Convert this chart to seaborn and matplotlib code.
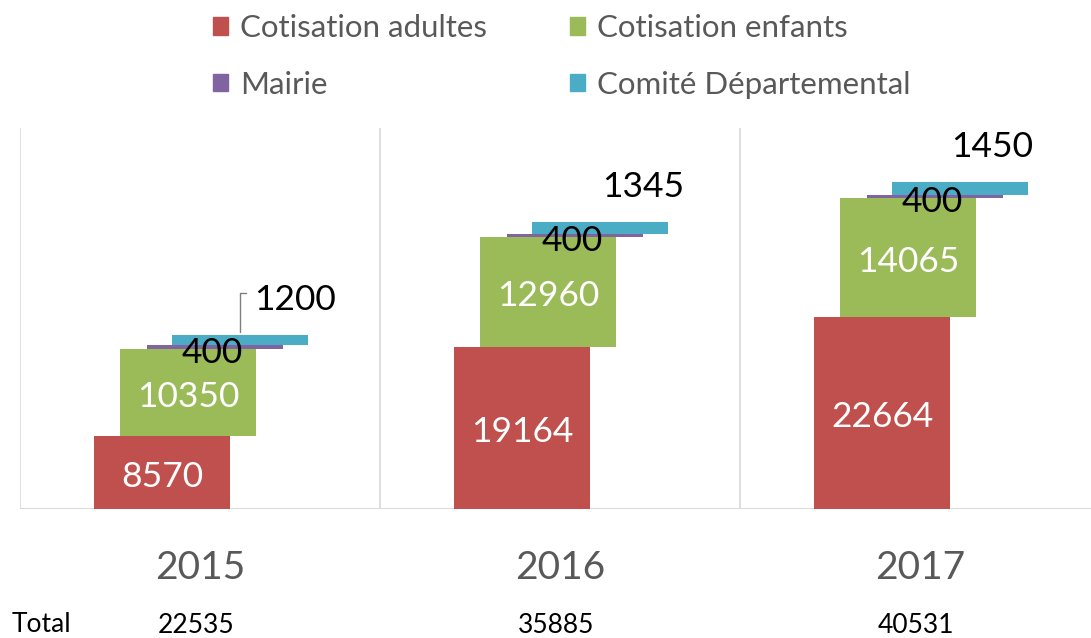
import matplotlib
matplotlib.use("Agg")
import matplotlib.pyplot as plt
from matplotlib.patches import Patch
import seaborn as sns
import numpy as np

years = ["2015", "2016", "2017"]
adultes = [8570, 19164, 22664]
enfants = [10350, 12960, 14065]
mairie = [400, 400, 400]
comite = [1200, 1345, 1450]
totals = ["22535", "35885", "40531"]
series_names = ["Cotisation adultes", "Cotisation enfants", "Mairie", "Comité Départemental"]

colors = ["#C0504D", "#9BBB59", "#8064A2", "#4BACC6"]

sns.set_theme(style="white")
plt.rcParams["font.family"] = ["Lato", "DejaVu Sans"]

fig = plt.figure(figsize=(10.91, 6.38), dpi=100)
ax = fig.add_axes([20 / 1091, 1 - 509 / 638, 1080 / 1091, 381 / 638])

idx = np.arange(len(years))
series = [adultes, enfants, mairie, comite]
offsets = [-0.105, -0.033, 0.042, 0.111]
width = 0.378

bottom = np.zeros(len(years))
bar_containers = []
for vals, off, col in zip(series, offsets, colors):
    vals = np.array(vals, dtype=float)
    sns.barplot(x=idx + off, y=vals, native_scale=True, width=width,
                color=col, saturation=1, bottom=bottom.copy(), ax=ax,
                linewidth=0, errorbar=None)
    bar_containers.append((idx + off, bottom.copy(), vals))
    bottom = bottom + vals

ax.set_xlim(-0.5, 2.5)
ax.set_ylim(0, 45000)
ax.set_xticks([])
ax.set_yticks([])
for s in ["top", "right", "left", "bottom"]:
    ax.spines[s].set_visible(False)

# separators and baseline
for xv in [-0.5, 0.5, 1.5, 2.5]:
    ax.axvline(xv, color="#D9D9D9", lw=1.2, zorder=0)
ax.axhline(0, color="#D9D9D9", lw=1.5, zorder=0)

# labels: adultes & enfants inside (white)
for k in range(2):
    xs, bots, vals = bar_containers[k]
    for x, b, v in zip(xs, bots, vals):
        ax.annotate(f"{int(v)}", xy=(x, b + v / 2), xytext=(0, -4),
                    textcoords="offset pixels", ha="center", va="center",
                    color="white", fontsize=25.5)

# mairie labels
xs, bots, vals = bar_containers[2]
for x, b, v in zip(xs, bots, vals):
    ax.annotate(f"{int(v)}", xy=(x, b), xytext=(-3, -4), textcoords="offset pixels",
                ha="center", va="center", color="black", fontsize=25.5)

# comite labels
xs, bots, vals = bar_containers[3]
dxs = [55, 43, 32]
for i, (x, b, v) in enumerate(zip(xs, bots, vals)):
    ax.annotate(f"{int(v)}", xy=(x, b + v), xytext=(dxs[i], 35),
                textcoords="offset pixels", ha="center", va="center",
                color="black", fontsize=25.5)
# leader line for first
x0, b0, v0 = xs[0], bots[0], vals[0]
ax.annotate("", xy=(x0, b0 + v0), xytext=(9, 42), textcoords="offset pixels",
            arrowprops=dict(arrowstyle="-", color="#7F7F7F", lw=1,
                            connectionstyle="angle,angleA=0,angleB=90,rad=0"))

# year labels
for i, y in enumerate(years):
    ax.text(i, -0.155, y, transform=ax.get_xaxis_transform(), ha="center",
            va="center", fontsize=28, color="#595959")

# Total row
fig.text(12 / 1091, 1 - 625 / 638, "Total", ha="left", va="center",
         fontsize=19, color="black")
for i, t in enumerate(totals):
    ax.annotate(t, xy=(i, -0.307), xycoords=ax.get_xaxis_transform(),
                xytext=(-4, 0), textcoords="offset pixels", ha="center",
                va="center", fontsize=19, color="black")

# legend
handles = [Patch(color=c, label=n) for c, n in zip(colors, series_names)]
order = [0, 2, 1, 3]
leg = fig.legend([handles[i] for i in order], [series_names[i] for i in order],
                 ncol=2, loc="upper left", bbox_to_anchor=(196 / 1091, 1.005),
                 frameon=False, fontsize=22.5, handlelength=0.48, handleheight=0.48,
                 handletextpad=0.38, labelspacing=0.92, columnspacing=2.65,
                 borderaxespad=0.15)
for t in leg.get_texts():
    t.set_color("#595959")

fig.savefig("out.png", dpi=100)
